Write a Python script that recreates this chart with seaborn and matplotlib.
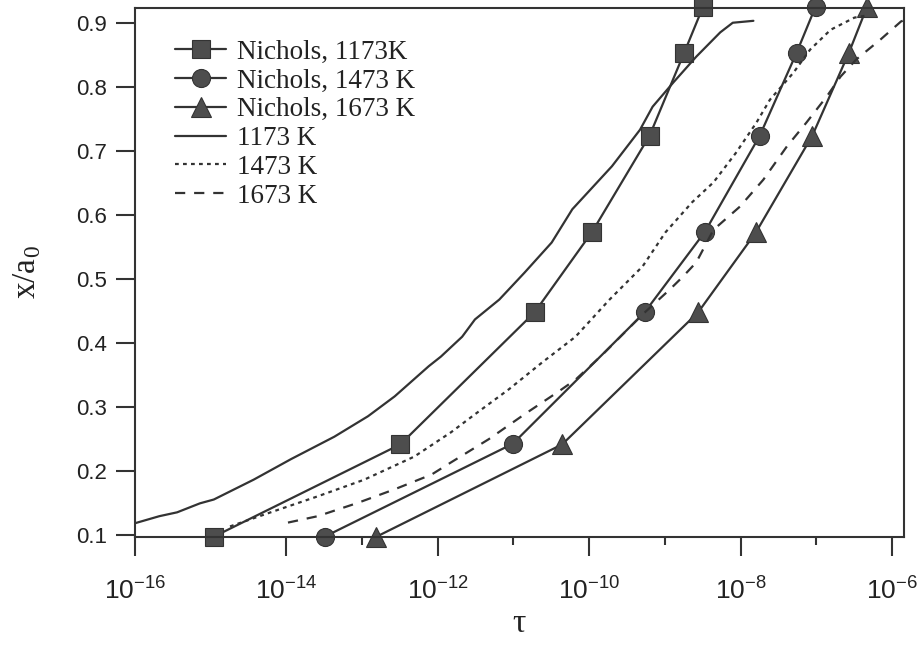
import numpy as np
import pandas as pd
import matplotlib
matplotlib.use("Agg")
import matplotlib.pyplot as plt
import seaborn as sns

# ---------------- data (tau values, x/a0) ----------------
nich_1173_tau = [1.1e-15, 3.2e-13, 1.9e-11, 1.1e-10, 6.3e-10, 1.8e-9, 3.2e-9]
nich_1173_x = [0.098, 0.242, 0.448, 0.574, 0.724, 0.853, 0.925]

nich_1473_tau = [3.2e-14, 9.8e-12, 5.4e-10, 3.4e-9, 1.8e-8, 5.5e-8, 9.8e-8]
nich_1473_x = [0.098, 0.243, 0.448, 0.574, 0.724, 0.853, 0.925]

nich_1673_tau = [1.55e-13, 4.4e-11, 2.75e-9, 1.6e-8, 8.9e-8, 2.7e-7, 4.7e-7]
nich_1673_x = [0.098, 0.242, 0.448, 0.573, 0.724, 0.853, 0.925]

sim_1173_tau = [1.0e-16, 2.1e-16, 3.6e-16, 7.2e-16, 1.1e-15, 3.7e-15, 1.15e-14,
                4.3e-14, 1.2e-13, 2.7e-13, 7.6e-13, 1.1e-12, 2.1e-12, 3.1e-12,
                6.5e-12, 1.4e-11, 3.2e-11, 6.0e-11, 2.0e-10, 4.7e-10, 6.9e-10,
                1.3e-9, 2.6e-9, 5.4e-9, 7.9e-9, 1.48e-8]
sim_1173_x = [0.119, 0.130, 0.136, 0.150, 0.156, 0.187, 0.219,
              0.254, 0.286, 0.317, 0.364, 0.379, 0.410, 0.437,
              0.468, 0.510, 0.557, 0.609, 0.676, 0.733, 0.769,
              0.807, 0.847, 0.885, 0.900, 0.903]

sim_1473_tau = [1.8e-15, 6.2e-15, 2.6e-14, 1.07e-13, 4.9e-13, 1.5e-12, 3.1e-12,
                8.7e-12, 2.4e-11, 6.6e-11, 1.86e-10, 5.1e-10, 1.02e-9, 2.3e-9,
                4.4e-9, 8.7e-9, 1.62e-8, 2.45e-8, 5.0e-8, 8.3e-8, 1.55e-7,
                3.2e-7, 4.5e-7]
sim_1473_x = [0.114, 0.136, 0.161, 0.187, 0.223, 0.261, 0.289,
              0.328, 0.370, 0.410, 0.468, 0.520, 0.573, 0.620,
              0.651, 0.697, 0.744, 0.780, 0.822, 0.858, 0.889,
              0.908, 0.911]

sim_1673_tau = [1.05e-14, 2.6e-14, 8.9e-14, 2.7e-13, 8.3e-13, 1.5e-12, 4.7e-12,
                1.4e-11, 4.0e-11, 6.6e-11, 1.5e-10, 5.1e-10, 1.17e-9, 1.74e-9,
                2.6e-9, 4.4e-9, 9.8e-9, 2.0e-8, 4.1e-8, 7.4e-8, 1.38e-7,
                2.1e-7, 3.4e-7, 7.1e-7, 1.32e-6, 1.6e-6]
sim_1673_x = [0.120, 0.130, 0.151, 0.172, 0.195, 0.214, 0.250,
              0.289, 0.325, 0.343, 0.382, 0.445, 0.484, 0.504,
              0.526, 0.577, 0.613, 0.655, 0.707, 0.744, 0.785,
              0.816, 0.843, 0.874, 0.902, 0.906]

labels = ["Nichols, 1173K", "Nichols, 1473 K", "Nichols, 1673 K",
          "1173 K", "1473 K", "1673 K"]

xtick_vals = [1e-16, 1e-14, 1e-12, 1e-10, 1e-8, 1e-6]
xtick_labels = [r"$\mathregular{10^{-16}}$", r"$\mathregular{10^{-14}}$",
                r"$\mathregular{10^{-12}}$", r"$\mathregular{10^{-10}}$",
                r"$\mathregular{10^{-8}}$", r"$\mathregular{10^{-6}}$"]
xminor_vals = [1e-15, 1e-13, 1e-11, 1e-9, 1e-7]
ytick_vals = [0.1, 0.2, 0.3, 0.4, 0.5, 0.6, 0.7, 0.8, 0.9]
ytick_labels = ["0.1", "0.2", "0.3", "0.4", "0.5", "0.6", "0.7", "0.8", "0.9"]

# ---------------- style ----------------
sns.set_theme(style="ticks")
plt.rcParams["font.family"] = ["Liberation Sans", "DejaVu Sans"]
plt.rcParams["mathtext.fontset"] = "custom"
plt.rcParams["mathtext.rm"] = "Liberation Sans"
plt.rcParams["mathtext.it"] = "Liberation Sans:italic"
plt.rcParams["mathtext.bf"] = "Liberation Sans:bold"

ink = "#333333"
mfill = "#4d4d4d"
lw = 1.6
serif = ["Liberation Serif", "DejaVu Serif"]

fig = plt.figure(figsize=(9.22, 6.45), dpi=100)
ax = fig.add_axes([135 / 922, 1 - 537 / 645, 769 / 922, 529 / 645])

series = [
    (nich_1173_tau, nich_1173_x, dict(marker="s", markersize=12.5, linestyle="-")),
    (nich_1473_tau, nich_1473_x, dict(marker="o", markersize=13, linestyle="-")),
    (nich_1673_tau, nich_1673_x, dict(marker="^", markersize=14, linestyle="-")),
    (sim_1173_tau, sim_1173_x, dict(linestyle="-")),
    (sim_1473_tau, sim_1473_x, dict(linestyle=(0, (1.7, 1.9)))),
    (sim_1673_tau, sim_1673_x, dict(linestyle=(0, (4.6, 4.0)))),
]

for (tx, yx, kw), lab in zip(series, labels):
    df = pd.DataFrame({"tau": tx, "x": yx})
    has_marker = "marker" in kw
    sns.lineplot(data=df, x="tau", y="x", ax=ax, sort=False, estimator=None,
                 color=ink, linewidth=lw, label=lab,
                 markerfacecolor=mfill, markeredgecolor=ink,
                 markeredgewidth=0.8, clip_on=not has_marker, **kw)

ax.set_xscale("log")
ax.set_xlim(1e-16, 10 ** -5.84)
ax.set_ylim(0.0975, 0.923)

ax.set_xticks(xtick_vals, xtick_labels)
ax.set_xticks(xminor_vals, minor=True)
ax.xaxis.set_minor_formatter(matplotlib.ticker.NullFormatter())
ax.set_yticks(ytick_vals, ytick_labels)

for sp in ax.spines.values():
    sp.set_visible(True)
    sp.set_linewidth(1.5)
    sp.set_color(ink)

ax.tick_params(axis="both", which="major", direction="out", length=14,
               width=1.5, color=ink, labelcolor="#222222")
ax.tick_params(axis="x", which="major", pad=15, labelsize=19)
ax.tick_params(axis="y", which="major", pad=6, labelsize=16)
ax.tick_params(axis="x", which="minor", direction="out", length=6,
               width=1.5, color=ink)

ax.set_xlabel("τ", family=serif, fontsize=24, labelpad=3, color="#222222")
ax.set_ylabel(r"x/a$_\mathregular{0}$", family=serif,
              fontsize=24, labelpad=24, color="#222222")

leg = ax.legend(loc="upper left", bbox_to_anchor=(0.052, 0.940), frameon=False,
                prop={"family": serif, "size": 19.5},
                handlelength=1.9, handletextpad=0.38, labelspacing=0.14,
                borderpad=0, borderaxespad=0, markerscale=1.0)
for t in leg.get_texts():
    t.set_color("#222222")

fig.savefig("out.png", dpi=100)
